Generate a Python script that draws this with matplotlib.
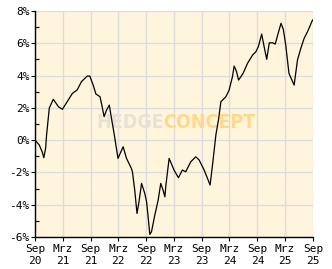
import pandas as pd
import matplotlib
matplotlib.use("Agg")
import matplotlib.pyplot as plt
from matplotlib.ticker import MultipleLocator, FuncFormatter

# performance in percent
dates = [
    "2020-09-01", "2020-09-29", "2020-10-18", "2020-10-29", "2020-11-10", "2020-11-16",
    "2020-12-04", "2020-12-30", "2021-02-02", "2021-02-28", "2021-04-07", "2021-05-05",
    "2021-06-05", "2021-07-03", "2021-08-10", "2021-08-27", "2021-09-18", "2021-10-06",
    "2021-11-02", "2021-11-16", "2021-11-29", "2021-12-15", "2022-01-02", "2022-01-18",
    "2022-02-04", "2022-02-28", "2022-04-03", "2022-04-25", "2022-05-27", "2022-06-03",
    "2022-06-18", "2022-07-03", "2022-07-16", "2022-08-02", "2022-08-23", "2022-09-04",
    "2022-09-14", "2022-09-25", "2022-10-06", "2022-10-28", "2022-11-19", "2022-12-06",
    "2022-12-21", "2023-01-02", "2023-01-09", "2023-01-30", "2023-03-03", "2023-04-01",
    "2023-04-27", "2023-05-19", "2023-06-21", "2023-07-24", "2023-08-15", "2023-09-17",
    "2023-10-09", "2023-10-26", "2023-11-11", "2023-12-03", "2023-12-20", "2024-01-05",
    "2024-02-07", "2024-02-28", "2024-03-21", "2024-04-01", "2024-04-17", "2024-04-30",
    "2024-05-30", "2024-06-28", "2024-07-31", "2024-08-22", "2024-09-07", "2024-09-29",
    "2024-10-15", "2024-11-01", "2024-11-18", "2024-12-10", "2024-12-27", "2025-01-12",
    "2025-02-03", "2025-02-18", "2025-03-06", "2025-03-27", "2025-04-30", "2025-05-22",
    "2025-06-13", "2025-07-05", "2025-07-27", "2025-08-29",
]
values = [
    0.00, -0.30, -0.72, -1.09, -0.49, 0.32,
    1.99, 2.53, 2.07, 1.91, 2.48, 2.90,
    3.11, 3.62, 3.97, 3.97, 3.41, 2.86,
    2.69, 2.07, 1.45, 1.86, 2.17, 1.25,
    0.32, -1.13, -0.41, -1.13, -1.75, -1.96,
    -3.09, -4.54, -3.82, -2.68, -3.30, -3.82,
    -4.75, -5.84, -5.68, -4.64, -3.71, -2.68,
    -3.09, -3.51, -2.78, -1.13, -1.85, -2.33,
    -1.85, -1.96, -1.34, -1.03, -1.23, -1.85,
    -2.37, -2.78, -1.54, 0.32, 1.25, 2.38,
    2.69, 3.10, 3.93, 4.59, 4.24, 3.72,
    4.14, 4.76, 5.27, 5.48, 5.79, 6.57,
    5.79, 5.01, 6.03, 6.03, 5.95, 6.51,
    7.24, 6.86, 5.89, 4.14, 3.41, 4.96,
    5.69, 6.31, 6.72, 7.44,
]
tick_dates = ["2020-09-01", "2021-03-01", "2021-09-01", "2022-03-01", "2022-09-01", "2023-03-01",
              "2023-09-01", "2024-03-01", "2024-09-01", "2025-03-01", "2025-09-01"]
tick_labels = ["Sep\n20", "Mrz\n21", "Sep\n21", "Mrz\n22", "Sep\n22", "Mrz\n23",
               "Sep\n23", "Mrz\n24", "Sep\n24", "Mrz\n25", "Sep\n25"]

x = pd.to_datetime(dates)
ticks = pd.to_datetime(tick_dates)

fig = plt.figure(figsize=(3.32, 2.69), dpi=100)
ax = fig.add_axes([35 / 332, 32 / 269, 278 / 332, 226 / 269])
ax.set_facecolor("#fff5dc")

# watermark
wm = dict(transform=ax.transAxes, ha="left", va="center", fontsize=14,
          fontweight="bold", family="DejaVu Sans", fontstretch="condensed", zorder=1)
ax.text(0.220, 0.507, "HEDGE", color="#e6e2d8", **wm)
ax.text(0.460, 0.507, "CONCEPT", color="#ffd98a", **wm)

ax.plot(x, values, color="black", lw=0.9, zorder=3)

ax.set_xlim(ticks[0], ticks[-1])
ax.set_ylim(-6, 8)
ax.set_xticks(ticks)
ax.set_xticklabels(tick_labels)
ax.yaxis.set_major_locator(MultipleLocator(2))
ax.yaxis.set_minor_locator(MultipleLocator(1))
ax.yaxis.set_major_formatter(FuncFormatter(lambda v, p: "%d%%" % v))

ax.grid(True, color="#dcdcdc", lw=1.0, zorder=0)
ax.set_axisbelow(True)
for s in ["top", "right"]:
    ax.spines[s].set_visible(False)
for s in ["left", "bottom"]:
    ax.spines[s].set_color("black")
    ax.spines[s].set_linewidth(1.0)

ax.tick_params(axis="both", which="major", length=3, width=0.8, pad=1,
               labelsize=8, labelfontfamily="DejaVu Sans Mono")
ax.tick_params(axis="y", which="minor", direction="in", length=3, width=0.8)
ax.tick_params(axis="x", which="major", pad=2)
for lbl in ax.get_xticklabels():
    lbl.set_linespacing(1.3)

fig.savefig("out.png", dpi=100, facecolor="white")
